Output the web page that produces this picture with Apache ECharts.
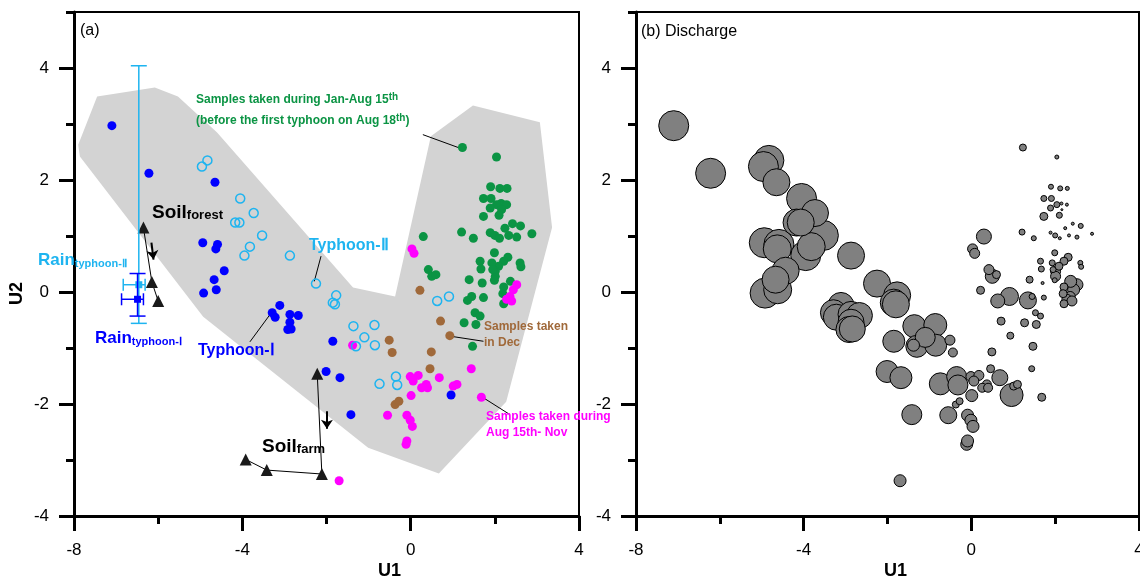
<!DOCTYPE html>
<html>
<head>
<meta charset="utf-8">
<script src="https://cdn.jsdelivr.net/npm/echarts@6/dist/echarts.min.js"></script>
<style>
  html, body { margin: 0; padding: 0; background: #fff; }
  #chart { width: 1140px; height: 582px; }
</style>
</head>
<body>
<div id="chart"></div>
<script>
// points: [U1, U2, bubble diameter in panel b (discharge)]
const typhoonI = [
  [-7.10, 2.97, 30], [-6.22, 2.12, 30], [-4.65, 1.96, 27], [-4.94, 0.88, 30],
  [-4.59, 0.85, 30], [-4.63, 0.77, 28], [-4.43, 0.38, 27], [-4.67, 0.22, 27],
  [-4.62, 0.04, 28], [-4.92, -0.02, 30], [-3.11, -0.24, 26], [-3.29, -0.37, 26],
  [-3.22, -0.45, 26], [-2.87, -0.40, 26], [-2.67, -0.42, 26], [-2.87, -0.54, 26],
  [-2.92, -0.67, 26], [-2.84, -0.66, 26], [-1.85, -0.88, 22], [-2.01, -1.42, 22],
  [-1.68, -1.53, 22], [-1.42, -2.19, 20], [0.96, -1.84, 23]
];
const typhoonII = [
  [-4.83, 2.35, 30], [-4.96, 2.24, 30], [-4.05, 1.67, 30], [-3.73, 1.41, 27],
  [-4.17, 1.24, 27], [-4.07, 1.24, 27], [-3.53, 1.01, 30], [-3.82, 0.81, 28],
  [-3.95, 0.65, 30], [-2.87, 0.65, 27], [-2.25, 0.15, 27], [-1.77, -0.06, 27],
  [-1.85, -0.19, 27], [-1.80, -0.22, 27], [-1.36, -0.61, 23], [-0.86, -0.59, 23],
  [-1.10, -0.81, 20], [-1.30, -0.97, 22], [-0.85, -0.95, 22], [-0.35, -1.51, 20],
  [-0.32, -1.66, 20], [-0.74, -1.64, 22], [0.63, -0.16, 14], [0.91, -0.08, 18]
];
const decSamples = [
  [0.22, 0.03, 8], [0.71, -0.52, 8], [0.93, -0.78, 7], [-0.51, -0.86, 10],
  [-0.44, -1.08, 9], [0.49, -1.07, 8], [0.46, -1.37, 8], [-0.37, -2.01, 7],
  [-0.28, -1.95, 7]
];
const augNovSamples = [
  [0.03, 0.77, 10], [0.08, 0.69, 10], [-1.38, -0.95, 12], [-0.01, -1.51, 10],
  [0.18, -1.49, 10], [0.06, -1.59, 10], [0.37, -1.65, 9], [0.26, -1.71, 9],
  [0.40, -1.71, 9], [0.68, -1.53, 16], [1.01, -1.68, 8], [1.10, -1.65, 8],
  [1.44, -1.37, 6], [1.68, -1.88, 8], [0.01, -1.85, 12], [-0.55, -2.20, 17],
  [-0.09, -2.20, 12], [-0.01, -2.29, 12], [0.04, -2.40, 12], [-0.11, -2.72, 12],
  [-0.09, -2.66, 12], [-1.70, -3.37, 12], [2.52, 0.13, 12], [2.44, 0.04, 12],
  [2.36, -0.08, 10], [2.28, -0.13, 10], [2.40, -0.16, 10]
];
const janAugSamples = [
  [1.23, 2.58, 7], [2.04, 2.41, 4], [1.90, 1.88, 5], [2.12, 1.85, 5], [2.29, 1.85, 4],
  [1.73, 1.67, 6], [1.91, 1.67, 6], [2.15, 1.58, 3], [2.28, 1.56, 3], [2.04, 1.56, 6],
  [2.16, 1.47, 2], [1.89, 1.50, 6], [2.10, 1.37, 6], [1.73, 1.35, 8], [2.24, 1.14, 3],
  [2.42, 1.22, 3], [2.61, 1.18, 5], [2.88, 1.04, 3], [1.89, 1.06, 3], [2.00, 1.01, 5],
  [2.11, 0.96, 3], [2.33, 1.01, 3], [2.52, 0.98, 4], [1.21, 1.07, 6], [1.49, 0.96, 5],
  [0.30, 0.99, 15], [1.99, 0.70, 6], [2.31, 0.62, 8], [2.21, 0.55, 8], [2.09, 0.46, 8],
  [2.01, 0.37, 10], [2.01, 0.28, 10], [1.93, 0.52, 6], [1.95, 0.40, 6], [1.65, 0.55, 6],
  [1.67, 0.41, 6], [2.60, 0.52, 5], [2.62, 0.45, 5], [1.99, 0.21, 5], [1.70, 0.16, 3],
  [1.39, 0.22, 7], [0.42, 0.40, 10], [0.50, 0.28, 14], [0.60, 0.31, 8], [2.37, 0.19, 12],
  [2.21, 0.09, 8], [2.19, -0.03, 8], [1.73, -0.10, 5], [1.45, -0.08, 6], [1.35, -0.15, 17],
  [2.21, -0.21, 8], [1.53, -0.37, 6], [1.65, -0.43, 6], [1.27, -0.55, 8], [1.55, -0.58, 8],
  [1.47, -0.97, 8]
];
const soilForest = [[-6.35, 1.15], [-6.15, 0.18], [-6.00, -0.16]];
const soilFarm = [[-3.92, -2.99], [-3.42, -3.18], [-2.11, -3.25], [-2.22, -1.46]];
// rain end-members: [U1, U2, U1 low, U1 high, U2 low, U2 high]
const rainTyphoonII = [[-6.46, 0.13, -6.83, -6.31, -0.56, 4.04]];
const rainTyphoonI = [[-6.49, -0.13, -6.87, -6.35, -0.43, 0.33]];
// grey envelope around the river samples
const envelope = [
  [-7.45, 3.49], [-6.08, 3.65], [-5.53, 3.49], [-4.60, 2.85], [-1.37, 0.08],
  [-0.37, -0.08], [0.48, 2.78], [1.48, 3.33], [3.07, 3.03], [3.36, 1.15],
  [2.27, -1.96], [0.67, -3.24], [-1.01, -2.78], [-4.93, -0.44], [-7.86, 2.42], [-7.90, 2.63]
];
const leaderLines = [
  [[0.29, 2.81], [1.13, 2.58]],
  [[-2.13, 0.64], [-2.29, 0.19]],
  [[-3.82, -0.89], [-3.34, -0.40]],
  [[0.95, -0.79], [1.73, -0.88]],
  [[1.73, -1.89], [2.36, -2.19]]
];
const arrows = [
  [[-6.16, 0.88], [-6.11, 0.58]],
  [[-1.99, -2.13], [-1.99, -2.44]]
];
const yLabelTicks = [-4, -2, 0, 2, 4];

const GREEN = '#0b9444', BROWN = '#a0693a', MAGENTA = '#ff00ff', BLUE = '#0000ff', CYAN = '#1eb4f0';
const FONT = 'Liberation Sans, Arial, sans-serif';

const chart = echarts.init(document.getElementById('chart'));

function xAxisFor(gridIndex) {
  return {
    type: 'value', gridIndex, min: -8, max: 4, interval: 4, position: 'bottom',
    axisLine: { show: true, onZero: false, lineStyle: { color: '#000', width: 3 } },
    axisTick: { show: true, inside: false, length: 15, lineStyle: { color: '#000', width: 3 } },
    minorTick: { show: true, splitNumber: 2, length: 8, lineStyle: { color: '#000', width: 3 } },
    axisLabel: { color: '#000', fontSize: 17, fontFamily: FONT, margin: 26, showMaxLabel: true, showMinLabel: true },
    splitLine: { show: false }
  };
}
function yAxesFor(gridIndex, labelMargin) {
  return [
    {
      type: 'value', gridIndex, min: -4, max: 5, interval: 1, position: 'left',
      axisLine: { show: true, onZero: false, lineStyle: { color: '#000', width: 3 } },
      axisTick: { show: true, length: 8, lineStyle: { color: '#000', width: 3 } },
      axisLabel: { show: false },
      splitLine: { show: false }
    },
    {
      type: 'value', gridIndex, min: -4, max: 5, position: 'left', offset: 0,
      axisLine: { show: false, onZero: false },
      axisTick: { show: true, length: 15, customValues: yLabelTicks, lineStyle: { color: '#000', width: 3 } },
      axisLabel: { color: '#000', fontSize: 17, fontFamily: FONT, margin: labelMargin, customValues: yLabelTicks },
      splitLine: { show: false }
    }
  ];
}

function errorBars(color) {
  return function (params, api) {
    const x = api.value(0), y = api.value(1);
    const xl = api.value(2), xh = api.value(3), yl = api.value(4), yh = api.value(5);
    const pL = api.coord([xl, y]), pR = api.coord([xh, y]);
    const pB = api.coord([x, yl]), pT = api.coord([x, yh]);
    const c = api.coord([x, y]);
    const st = { stroke: color, lineWidth: 1.5 };
    const cap = 8, capV = 6;
    return {
      type: 'group',
      children: [
        { type: 'line', shape: { x1: pL[0], y1: pL[1], x2: pR[0], y2: pR[1] }, style: st },
        { type: 'line', shape: { x1: pB[0], y1: pB[1], x2: pT[0], y2: pT[1] }, style: st },
        { type: 'line', shape: { x1: pL[0], y1: pL[1] - capV, x2: pL[0], y2: pL[1] + capV }, style: st },
        { type: 'line', shape: { x1: pR[0], y1: pR[1] - capV, x2: pR[0], y2: pR[1] + capV }, style: st },
        { type: 'line', shape: { x1: pB[0] - cap, y1: pB[1], x2: pB[0] + cap, y2: pB[1] }, style: st },
        { type: 'line', shape: { x1: pT[0] - cap, y1: pT[1], x2: pT[0] + cap, y2: pT[1] }, style: st },
        { type: 'rect', shape: { x: c[0] - 3.5, y: c[1] - 3.5, width: 7, height: 7 }, style: { fill: color } }
      ]
    };
  };
}

function dots(name, data, color, z) {
  return {
    name, type: 'scatter', xAxisIndex: 0, yAxisIndex: 0, z,
    data: data.map(d => [d[0], d[1]]), symbol: 'circle', symbolSize: 9,
    itemStyle: { color, opacity: 1 }, silent: true
  };
}

const allPoints = [].concat(typhoonI, typhoonII, decSamples, augNovSamples, janAugSamples)
  .slice().sort((a, b) => b[2] - a[2]);

function richLabel(x, y, main, sub, color, mainSize, subSize, subKind) {
  const rich = {
    m: { fontSize: mainSize, fontWeight: 'bold', fill: color, color, fontFamily: FONT },
    s: { fontSize: subSize, fontWeight: 'bold', fill: color, color, fontFamily: FONT,
         verticalAlign: subKind === 'sup' ? 'top' : 'bottom',
         padding: subKind === 'sup' ? [0, 0, 6, 0] : [6, 0, 0, 0] }
  };
  return {
    type: 'text', left: x, top: y, z: 100,
    style: { text: '{m|' + main + '}{s|' + sub + '}', rich, fill: color }
  };
}
function plainText(x, y, text, color, size, weight) {
  return {
    type: 'text', left: x, top: y, z: 100,
    style: { text, fill: color, fontSize: size, fontWeight: weight || 'normal', fontFamily: FONT, lineHeight: size + 4 }
  };
}

const option = {
  animation: false,
  backgroundColor: '#fff',
  grid: [
    { left: 74, top: 12, width: 505, height: 504, show: true, borderColor: '#000', borderWidth: 2,
      backgroundColor: 'transparent', containLabel: false, outerBoundsMode: 'none' },
    { left: 636, top: 12, width: 503, height: 504, show: true, borderColor: '#000', borderWidth: 2,
      backgroundColor: 'transparent', containLabel: false, outerBoundsMode: 'none' }
  ],
  xAxis: [xAxisFor(0), xAxisFor(1)],
  yAxis: [].concat(yAxesFor(0, 25), yAxesFor(1, 25)),
  series: [
    {
      type: 'custom', xAxisIndex: 0, yAxisIndex: 0, z: 1, silent: true,
      data: [envelope[0]],
      renderItem: (params, api) => ({
        type: 'polygon',
        shape: { points: envelope.map(p => api.coord(p)) },
        style: { fill: '#d3d3d3' }
      })
    },
    {
      type: 'lines', coordinateSystem: 'cartesian2d', xAxisIndex: 0, yAxisIndex: 0, z: 3, silent: true,
      data: leaderLines.map(c => ({ coords: c })),
      lineStyle: { color: '#000', width: 1, opacity: 1 }
    },
    {
      type: 'lines', coordinateSystem: 'cartesian2d', xAxisIndex: 0, yAxisIndex: 0, z: 3, silent: true,
      symbol: ['none', 'arrow'], symbolSize: 9,
      data: arrows.map(c => ({ coords: c })),
      lineStyle: { color: '#000', width: 2, opacity: 1 }
    },
    {
      name: 'Soil forest', type: 'line', xAxisIndex: 0, yAxisIndex: 0, z: 4, data: soilForest,
      symbol: 'triangle', symbolSize: 12, showAllSymbol: true,
      lineStyle: { color: '#000', width: 1 }, itemStyle: { color: '#1a1a1a' }
    },
    {
      name: 'Soil farm', type: 'line', xAxisIndex: 0, yAxisIndex: 0, z: 4, data: soilFarm,
      symbol: 'triangle', symbolSize: 12, showAllSymbol: true,
      lineStyle: { color: '#000', width: 1 }, itemStyle: { color: '#1a1a1a' }
    },
    {
      type: 'custom', xAxisIndex: 0, yAxisIndex: 0, z: 5, silent: true,
      data: rainTyphoonII, encode: { x: 0, y: 1 }, renderItem: errorBars(CYAN)
    },
    {
      type: 'custom', xAxisIndex: 0, yAxisIndex: 0, z: 5, silent: true,
      data: rainTyphoonI, encode: { x: 0, y: 1 }, renderItem: errorBars(BLUE)
    },
    dots('Jan-Aug 15th', janAugSamples, GREEN, 6),
    dots('Dec', decSamples, BROWN, 7),
    dots('Aug 15th-Nov', augNovSamples, MAGENTA, 8),
    dots('Typhoon-I', typhoonI, BLUE, 9),
    {
      name: 'Typhoon-II', type: 'scatter', xAxisIndex: 0, yAxisIndex: 0, z: 10, silent: true,
      data: typhoonII.map(d => [d[0], d[1]]), symbol: 'circle', symbolSize: 9,
      itemStyle: { color: 'rgba(0,0,0,0)', borderColor: CYAN, borderWidth: 1.5, opacity: 1 }
    },
    {
      name: 'Discharge', type: 'scatter', xAxisIndex: 1, yAxisIndex: 2, z: 5, silent: true,
      data: allPoints, symbol: 'circle', symbolSize: v => v[2],
      itemStyle: { color: '#808080', borderColor: '#000', borderWidth: 1, opacity: 1 }
    }
  ],
  graphic: [
    plainText(80, 21, '(a)', '#000', 16),
    plainText(641, 22, '(b) Discharge', '#000', 16),
    richLabel(196, 92, 'Samples taken during Jan-Aug 15', 'th', GREEN, 12, 10, 'sup'),
    {
      type: 'text', left: 196, top: 113, z: 100,
      style: {
        text: '{m|(before the first typhoon on Aug 18}{s|th}{m|)}', fill: GREEN,
        rich: {
          m: { fontSize: 12, fontWeight: 'bold', fill: GREEN, fontFamily: FONT },
          s: { fontSize: 10, fontWeight: 'bold', fill: GREEN, fontFamily: FONT, verticalAlign: 'top', padding: [0, 0, 6, 0] }
        }
      }
    },
    richLabel(152, 203, 'Soil', 'forest', '#000', 19, 13, 'sub'),
    richLabel(262, 437, 'Soil', 'farm', '#000', 19, 13, 'sub'),
    richLabel(38, 252, 'Rain', 'typhoon-Ⅱ', CYAN, 17, 11, 'sub'),
    richLabel(95, 330, 'Rain', 'typhoon-Ⅰ', BLUE, 17, 11, 'sub'),
    plainText(309, 236, 'Typhoon-Ⅱ', CYAN, 16, 'bold'),
    plainText(198, 341, 'Typhoon-Ⅰ', BLUE, 16, 'bold'),
    plainText(484, 319, 'Samples taken\nin Dec', BROWN, 12, 'bold'),
    plainText(486, 409, 'Samples taken during\nAug 15th- Nov', MAGENTA, 12, 'bold'),
    { type: 'text', left: 378, top: 562, z: 100, style: { text: 'U1', fill: '#000', fontSize: 18, fontWeight: 'bold', fontFamily: FONT } },
    { type: 'text', left: 884, top: 562, z: 100, style: { text: 'U1', fill: '#000', fontSize: 18, fontWeight: 'bold', fontFamily: FONT } },
    { type: 'text', x: 8, y: 305, rotation: Math.PI / 2, z: 100, style: { text: 'U2', fill: '#000', fontSize: 18, fontWeight: 'bold', fontFamily: FONT } }
  ]
};

chart.setOption(option);
</script>
</body>
</html>
